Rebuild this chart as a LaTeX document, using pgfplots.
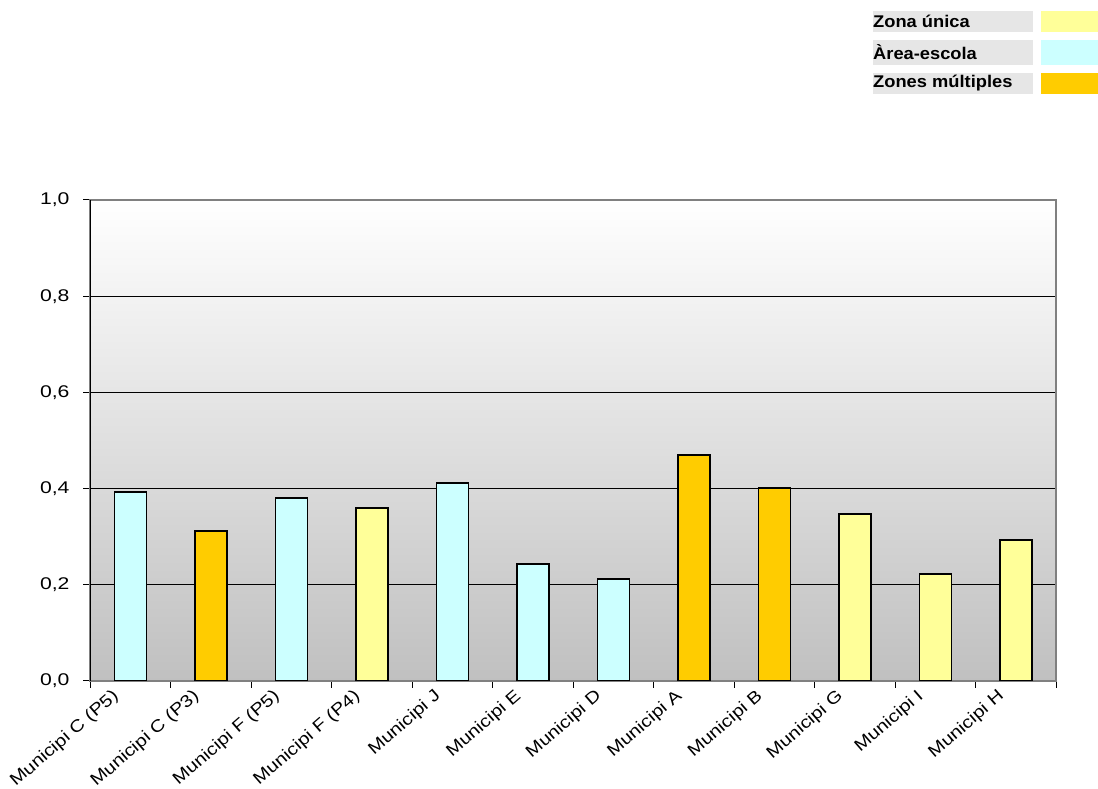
\documentclass[border=0pt]{standalone}
\usepackage{fontspec}
\setmainfont{Liberation Sans}
\newfontfamily\wide[FakeStretch=1.25]{Liberation Sans}
\newfontfamily\widex[FakeStretch=1.18]{Liberation Sans}
\newfontfamily\widel[FakeStretch=1.08]{Liberation Sans}
\usepackage{pgfplots}
\pgfplotsset{compat=1.18}
\definecolor{zyel}{HTML}{FFFF99}
\definecolor{zcya}{HTML}{CCFFFF}
\definecolor{zora}{HTML}{FFCC00}
\definecolor{bggray}{HTML}{C0C0C0}
\definecolor{leggray}{HTML}{E6E6E6}
\begin{document}
\begin{tikzpicture}[x=1bp,y=1bp]
\path[use as bounding box] (0,0) rectangle (1098,789);
\begin{axis}[
  at={(90bp,108bp)}, anchor=south west,
  scale only axis, width=966bp, height=481bp,
  xmin=-0.5, xmax=11.5, ymin=0, ymax=1,
  ytick={0,0.2,0.4,0.6,0.8,1},
  xtick={-0.5,0.5,...,11.5},
  x tick label as interval,
  xticklabels={Municipi C (P5),Municipi C (P3),Municipi F (P5),Municipi F (P4),Municipi J,Municipi E,Municipi D,Municipi A,Municipi B,Municipi G,Municipi I,Municipi H},
  tick pos=left,
  ymajorgrids, grid style={black, line width=1bp},
  axis line style={gray, line width=1.2bp},
  tick style={black, line width=1bp},
  tick align=outside, major tick length=7bp,
  /pgf/number format/assume math mode=true,
  y tick label style={/pgf/number format/use comma, /pgf/number format/fixed, /pgf/number format/fixed zerofill, /pgf/number format/precision=1, font=\fontsize{17}{17}\selectfont\wide, xshift=-10bp},
  x tick label style={font=\fontsize{17}{17}\selectfont\widex, xshift=-19bp, yshift=3bp, rotate=41, anchor=north east, inner sep=2bp},
  axis background/.style={top color=white, bottom color=bggray},
]
\addplot[ybar, bar width=32bp, bar shift=0pt, fill=zcya, draw=black, line width=1.5bp] coordinates {(0,0.393)(2,0.380)(4,0.412)(5,0.243)(6,0.212)};
\addplot[ybar, bar width=32bp, bar shift=0pt, fill=zora, draw=black, line width=1.5bp] coordinates {(1,0.312)(7,0.470)(8,0.401)};
\addplot[ybar, bar width=32bp, bar shift=0pt, fill=zyel, draw=black, line width=1.5bp] coordinates {(3,0.360)(9,0.347)(10,0.222)(11,0.293)};
\draw[black, line width=1.2bp] (rel axis cs:0,0) -- (rel axis cs:0,1);
\end{axis}
% legend
\fill[leggray] (873,757) rectangle (1033,778);
\fill[zyel] (1041,757) rectangle (1098,778);
\node[anchor=west, inner sep=0pt, font=\fontsize{17}{17}\selectfont\widel\bfseries] at (873,767.5) {Zona única};
\fill[leggray] (873,724) rectangle (1033,749);
\fill[zcya] (1041,724) rectangle (1098,749);
\node[anchor=west, inner sep=0pt, font=\fontsize{17}{17}\selectfont\widel\bfseries] at (873,736.5) {Àrea-escola};
\fill[leggray] (873,695) rectangle (1033,716);
\fill[zora] (1041,695) rectangle (1098,716);
\node[anchor=west, inner sep=0pt, font=\fontsize{17}{17}\selectfont\widel\bfseries] at (873,705.5) {Zones múltiples};
\end{tikzpicture}
\end{document}
